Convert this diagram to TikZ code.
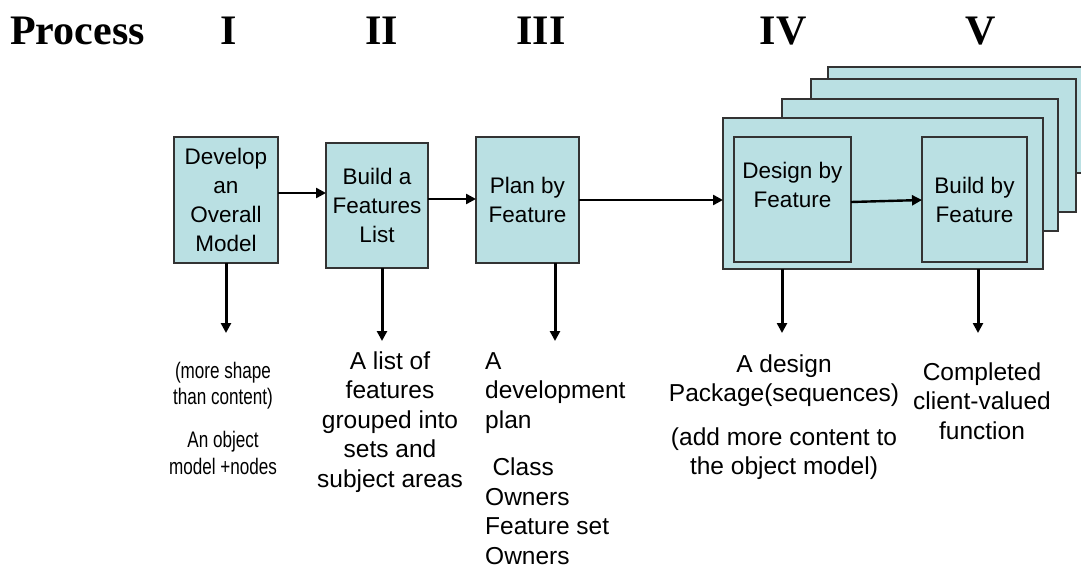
\documentclass[tikz,border=0pt]{standalone}
\usepackage{fontspec}
\setmainfont{Liberation Sans}
\newfontfamily\titlefont{Liberation Serif}
\newfontfamily\narrowfont[FakeStretch=0.76]{Liberation Sans}
\usetikzlibrary{arrows.meta}
\definecolor{panelfill}{RGB}{186,224,227}
\definecolor{panelline}{RGB}{51,51,51}
\tikzset{
  panel/.style={draw=panelline, fill=panelfill, line width=1.3pt, inner sep=0pt, outer sep=0pt},
  stepbox/.style={panel, align=center, font=\fontsize{22.5}{29}\selectfont},
  flow/.style={line width=2.4pt, -{Triangle[length=10pt,width=10pt]}},
  output/.style={flow, line width=3pt},
  heading/.style={font=\titlefont\bfseries\fontsize{42}{42}\selectfont, inner sep=0pt, anchor=base},
  result/.style={inner sep=0pt, anchor=base, font=\fontsize{24.5}{29.5}\selectfont},
}
\begin{document}
\begin{tikzpicture}[x=1pt, y=-1pt]
\clip (0,0) rectangle (1081,567);
\fill[white] (0,0) rectangle (1081,567);

% headings
\node[heading, anchor=base west] (hproc) at (10,45) {Process};
\node[heading] (h1) at (229,45) {I};
\node[heading] (h2) at (382,45) {II};
\node[heading] (h3) at (541,45) {III};
\node[heading] (h4) at (783,45) {IV};
\node[heading] (h5) at (981,45) {V};

% stacked iteration cards, back to front
\node[panel, minimum width=262pt, minimum height=106pt] (card3) at (959,120) {};
\node[panel, minimum width=265pt, minimum height=133pt] (card2) at (943.5,145.5) {};
\node[panel, minimum width=276pt, minimum height=132pt] (card1) at (920,165) {};
\node[panel, minimum width=320pt, minimum height=151pt] (front) at (883,193.5) {};

% process steps
\node[stepbox, minimum width=104pt, minimum height=126pt] (b1) at (226,200) {Develop\\an\\Overall\\Model};
\node[stepbox, minimum width=102pt, minimum height=125pt] (b2) at (377,205.5) {Build a\\Features\\List};
\node[stepbox, minimum width=103pt, minimum height=126pt] (b3) at (527.5,200) {Plan by\\Feature};
\node[stepbox, minimum width=117pt, minimum height=125pt] (design) at (792.5,199.5) {Design by\\Feature\\\mbox{}};
\node[stepbox, minimum width=105pt, minimum height=125pt] (build) at (974.5,199.5) {Build by\\Feature};

% flow between steps
\draw[flow] ([yshift=7pt]b1.east) -- ([yshift=7pt]b1.east -| b2.west);
\draw[flow] ([yshift=6.5pt]b2.east) -- ([yshift=6.5pt]b2.east -| b3.west);
\draw[flow] (b3.east) -- (b3.east -| front.west);
\draw[flow] ([yshift=-2.5pt]design.east) -- ([yshift=-0.5pt]build.west);

% outputs of each step
\coordinate (o1) at (226,333);
\coordinate (o2) at (382,341);
\coordinate (o3) at (555,341);
\coordinate (o4) at (782,333);
\coordinate (o5) at (978,333);
\draw[output] (b1.south -| o1) -- (o1);
\draw[output] (b2.south -| o2) -- (o2);
\draw[output] (b3.south -| o3) -- (o3);
\draw[output] (front.south -| o4) -- (o4);
\draw[output] (front.south -| o5) -- (o5);

\node[inner sep=0pt, anchor=base, font=\narrowfont\fontsize{22.5}{26.5}\selectfont] (t1) at (223,378)
  {\begin{tabular}[t]{@{}c@{}}(more shape\\than content)\\[16.5pt]An object\\model +nodes\end{tabular}};
\node[result] (t2) at (390,369)
  {\begin{tabular}[t]{@{}c@{}}A list of\\features\\grouped into\\sets and\\subject areas\end{tabular}};
\node[result, anchor=base west] (t3) at (485,369)
  {\begin{tabular}[t]{@{}l@{}}A\\development\\plan\\[18pt]\hspace*{0.3em}Class\\Owners\\Feature set\\Owners\end{tabular}};
\node[result] (t4) at (784,372)
  {\begin{tabular}[t]{@{}c@{}}A design\\Package(sequences)\\[14pt](add more content to\\the object model)\end{tabular}};
\node[result] (t5) at (982,380)
  {\begin{tabular}[t]{@{}c@{}}Completed\\client-valued\\function\end{tabular}};
\end{tikzpicture}
\end{document}
